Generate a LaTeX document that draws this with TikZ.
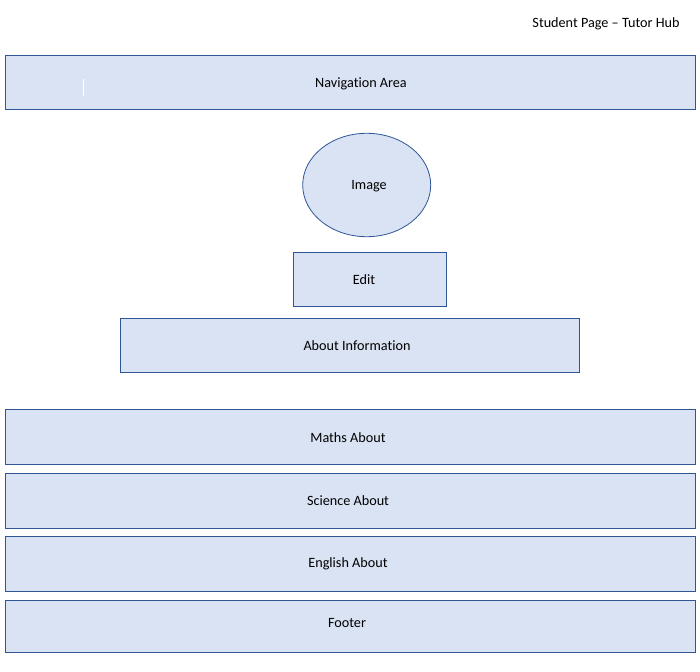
\documentclass[tikz,border=0pt]{standalone}
\usepackage{fontspec}
\setmainfont[RawFeature=-liga]{Carlito}
\begin{document}
\begin{tikzpicture}[x=1pt,y=-1pt,
  block/.style={draw=blockline,fill=blockfill,line width=1pt,inner sep=0pt},
  lbl/.style={font=\fontsize{14.2}{16}\selectfont,inner sep=0pt}]
\definecolor{blockfill}{HTML}{DAE3F3}
\definecolor{blockline}{HTML}{2F5597}
\useasboundingbox (0,0) rectangle (700,671);
% page title
\node[lbl] (title) at (606,23.5) {Student Page -- Tutor Hub};
% navigation bar
\draw[block] (5,55.5) rectangle (695,110);
\node[lbl] (nav) at (361,83.5) {Navigation Area};
\draw[white,line width=1pt] (83,79) -- (83,96);
% profile image
\draw[block,line width=0.8pt] (366.7,185) ellipse [x radius=64, y radius=51.7];
\node[lbl] (image) at (369,186.5) {Image};
% edit button
\draw[block] (293.5,252) rectangle (446,306);
\node[lbl] (edit) at (364,279.5) {Edit};
% about section
\draw[block] (120.5,318) rectangle (579,372);
\node[lbl] (about) at (357,345.5) {About Information};
% subject panels
\draw[block] (5,409.5) rectangle (695,464);
\node[lbl] (maths) at (348,437.5) {Maths About};
\draw[block] (5,473.5) rectangle (695,528);
\node[lbl] (science) at (348,500.5) {Science About};
\draw[block] (5,536.5) rectangle (695,591.5);
\node[lbl] (english) at (348,563.5) {English About};
% footer
\draw[block] (5,600.5) rectangle (695,652);
\node[lbl] (footer) at (347,622.5) {Footer};
\end{tikzpicture}
\end{document}
